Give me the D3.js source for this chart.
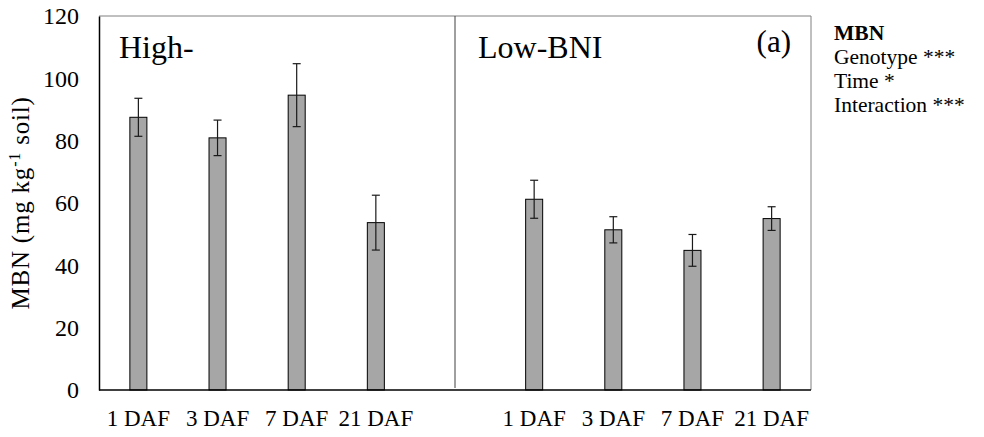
<!DOCTYPE html>
<html>
<head>
<meta charset="utf-8">
<script src="https://cdn.jsdelivr.net/npm/d3@7"></script>
<style>
body { margin: 0; background: #fff; }
svg text { font-family: "Liberation Serif", "Times New Roman", serif; fill: #000; }
</style>
</head>
<body>
<div id="app"></div>
<script>
// categories (blank slot in the middle separates the two genotypes)
const dafLabels = ["1 DAF", "3 DAF", "7 DAF", "21 DAF", "", "1 DAF", "3 DAF", "7 DAF", "21 DAF"];
const mbnValues = [87.5, 80.9, 94.6, 53.7, null, 61.2, 51.4, 44.8, 55.0];
const mbnErrors = [6.1, 5.7, 10.1, 8.8, null, 6.1, 4.2, 5.1, 3.8];
const yTicks = [0, 20, 40, 60, 80, 100, 120];
const statsLines = ["Genotype ***", "Time *", "Interaction ***"];

const W = 984, H = 437;
const m = { t: 16, r: 173, b: 47, l: 99 };
const serif = '"Liberation Serif", "Times New Roman", serif';

const svg = d3.select("#app").append("svg")
    .attr("width", W)
    .attr("height", H);

const x = d3.scaleBand()
    .domain(d3.range(dafLabels.length))
    .range([m.l, W - m.r])
    .paddingInner(0.785)
    .paddingOuter(0.39);

const y = d3.scaleLinear()
    .domain([0, 120])
    .range([H - m.b, m.t]);

// frame (top & right light)
svg.append("path")
    .attr("d", "M" + m.l + "," + m.t + "H" + (W - m.r) + "V" + (H - m.b))
    .attr("fill", "none")
    .attr("stroke", "#808080")
    .attr("stroke-width", 1);

// divider between the groups
const mid = x(4) + x.bandwidth() / 2;
svg.append("line")
    .attr("x1", mid).attr("x2", mid)
    .attr("y1", m.t).attr("y2", y(0) - 2)
    .attr("stroke", "#404040")
    .attr("stroke-width", 1);

const bars = dafLabels.map((d, i) => ({ i: i, label: d, v: mbnValues[i], e: mbnErrors[i] }))
    .filter(d => d.v != null);

svg.append("g").selectAll("rect")
    .data(bars).enter()
    .append("rect")
        .attr("x", d => x(d.i))
        .attr("y", d => y(d.v))
        .attr("width", x.bandwidth())
        .attr("height", d => y(0) - y(d.v))
        .attr("fill", "#a6a6a6")
        .attr("stroke", "#000")
        .attr("stroke-width", 1);

// error bars
const eb = svg.append("g")
    .attr("stroke", "#1a1a1a")
    .attr("stroke-width", 1.2);
const cap = 4;
bars.forEach(d => {
    const cx = x(d.i) + x.bandwidth() / 2;
    eb.append("line").attr("x1", cx).attr("x2", cx).attr("y1", y(d.v + d.e)).attr("y2", y(d.v - d.e));
    eb.append("line").attr("x1", cx - cap).attr("x2", cx + cap).attr("y1", y(d.v + d.e)).attr("y2", y(d.v + d.e));
    eb.append("line").attr("x1", cx - cap).attr("x2", cx + cap).attr("y1", y(d.v - d.e)).attr("y2", y(d.v - d.e));
});

// y axis
const yAxis = svg.append("g")
    .attr("transform", "translate(" + m.l + ",0)")
    .call(d3.axisLeft(y).tickValues(yTicks).tickSize(0).tickPadding(20));
yAxis.attr("font-family", serif);
yAxis.select(".domain").attr("stroke", "#000").attr("stroke-width", 1.5);
yAxis.selectAll("text")
    .style("font-size", "24px")
    .style("font-family", serif);

// x axis
const xAxis = svg.append("g")
    .attr("transform", "translate(0," + y(0) + ")")
    .call(d3.axisBottom(x).tickFormat(i => dafLabels[i]).tickSize(0).tickPadding(20));
xAxis.attr("font-family", serif);
xAxis.select(".domain")
    .attr("d", "M" + m.l + ",0H" + (W - m.r))
    .attr("stroke", "#000").attr("stroke-width", 1.5);
xAxis.selectAll("text")
    .style("font-size", "23px")
    .style("font-family", serif);

// axis title
svg.append("text")
    .attr("transform", "translate(29," + ((m.t + y(0)) / 2) + ") rotate(-90)")
    .attr("text-anchor", "middle")
    .style("font-size", "25px")
    .style("letter-spacing", "0.8px")
    .html('MBN (mg kg<tspan dy="-9" font-size="16px">-1</tspan><tspan dy="9"> soil)</tspan>');

// panel labels
svg.append("text").attr("x", 119).attr("y", 58).style("font-size", "32px").text("High-");
svg.append("text").attr("x", 478).attr("y", 58).style("font-size", "32px").text("Low-BNI");
svg.append("text").attr("x", 791).attr("y", 52).attr("text-anchor", "end").style("font-size", "31px").text("(a)");

// stats legend
const lg = svg.append("g").attr("transform", "translate(834,0)");
lg.append("text").attr("y", 40).style("font-size", "21.5px").style("font-weight", "bold").text("MBN");
lg.selectAll("text.s")
    .data(statsLines).enter()
    .append("text")
        .attr("class", "s")
        .attr("y", (d, i) => 64 + i * 24)
        .style("font-size", "21.5px")
        .text(d => d);
</script>
</body>
</html>
